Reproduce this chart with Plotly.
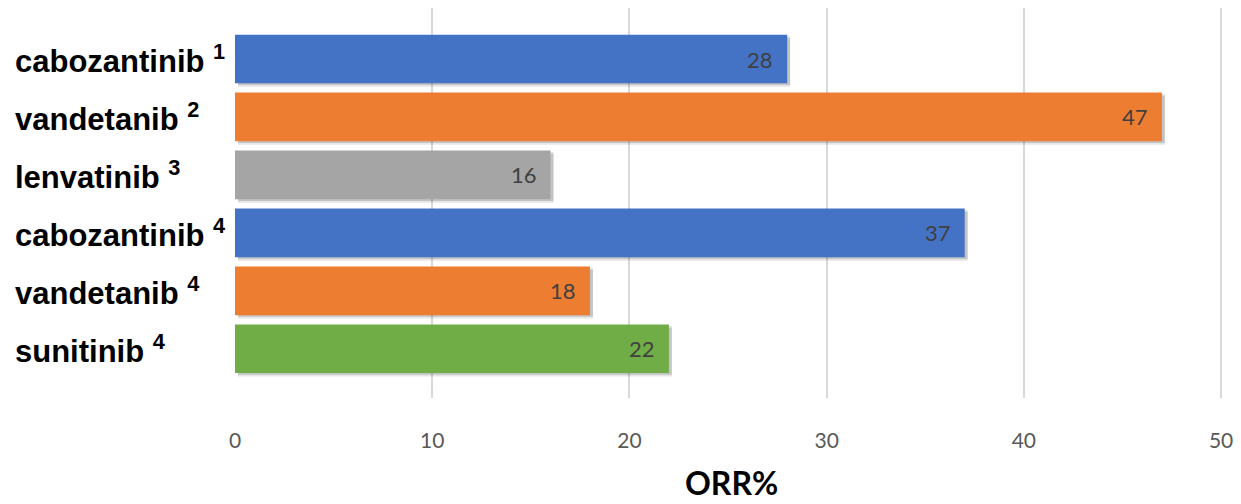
import plotly.graph_objects as go

# Objective response rate by agent (reference number in superscript)
drugs = ["cabozantinib", "vandetanib", "lenvatinib", "cabozantinib", "vandetanib", "sunitinib"]
refs = ["1", "2", "3", "4", "4", "4"]
orr = [28, 47, 16, 37, 18, 22]
colors = ["#4472C4", "#ED7D31", "#A5A5A5", "#4472C4", "#ED7D31", "#70AD47"]
x_ticks = [0, 10, 20, 30, 40, 50]

positions = list(range(len(drugs)))
BAR_W = 0.84

fig = go.Figure()

# soft drop shadow under each bar (two translucent layers)
for alpha, off in [(0.10, -0.36), (0.14, -0.39)]:
    fig.add_trace(go.Bar(
        y=positions, x=orr, orientation="h",
        marker=dict(color=f"rgba(0,0,0,{alpha})", line=dict(width=0)),
        width=BAR_W, offset=off, base=0.15,
        hoverinfo="skip", showlegend=False,
    ))

fig.add_trace(go.Bar(
    y=positions, x=orr, orientation="h",
    marker=dict(color=colors, line=dict(width=0)),
    width=BAR_W,
    showlegend=False,
))

# value labels just inside the bar end
for i, v in enumerate(orr):
    fig.add_annotation(
        x=v, xref="x", xanchor="right", xshift=-12,
        y=i, yref="y", yanchor="middle",
        text=str(v), showarrow=False,
        font=dict(family="Lato, Open Sans, sans-serif", size=22, color="#404040"),
    )

# category labels, left aligned
for i, (d, r) in enumerate(zip(drugs, refs)):
    fig.add_annotation(
        x=0, xref="paper", xshift=-222, xanchor="left",
        y=i, yref="y", yanchor="middle",
        text=f"<b>{d} <sup>{r}</sup></b>",
        showarrow=False,
        font=dict(family="Liberation Sans, Arial, sans-serif", size=31, color="#000000"),
    )

# x-axis title
fig.add_annotation(
    x=0.5, xref="paper", y=0, yref="paper", yshift=-84, yanchor="middle",
    text="<b>ORR%</b>", showarrow=False,
    font=dict(family="Lato, Open Sans, sans-serif", size=32, color="#000000"),
)

fig.update_layout(
    width=1241, height=504,
    margin=dict(l=235, r=11, t=8, b=106),
    plot_bgcolor="white", paper_bgcolor="white",
    barmode="overlay",
    xaxis=dict(
        range=[0, 50.3], tickvals=x_ticks,
        showgrid=True, gridcolor="#D9D9D9", gridwidth=2,
        zeroline=False, showline=False,
        tickfont=dict(family="Lato, Open Sans, sans-serif", size=21, color="#595959"),
        ticklabelstandoff=28,
    ),
    yaxis=dict(
        range=[5.85, -0.88], showticklabels=False, showgrid=False, zeroline=False,
    ),
)

fig.write_html("out.html")
